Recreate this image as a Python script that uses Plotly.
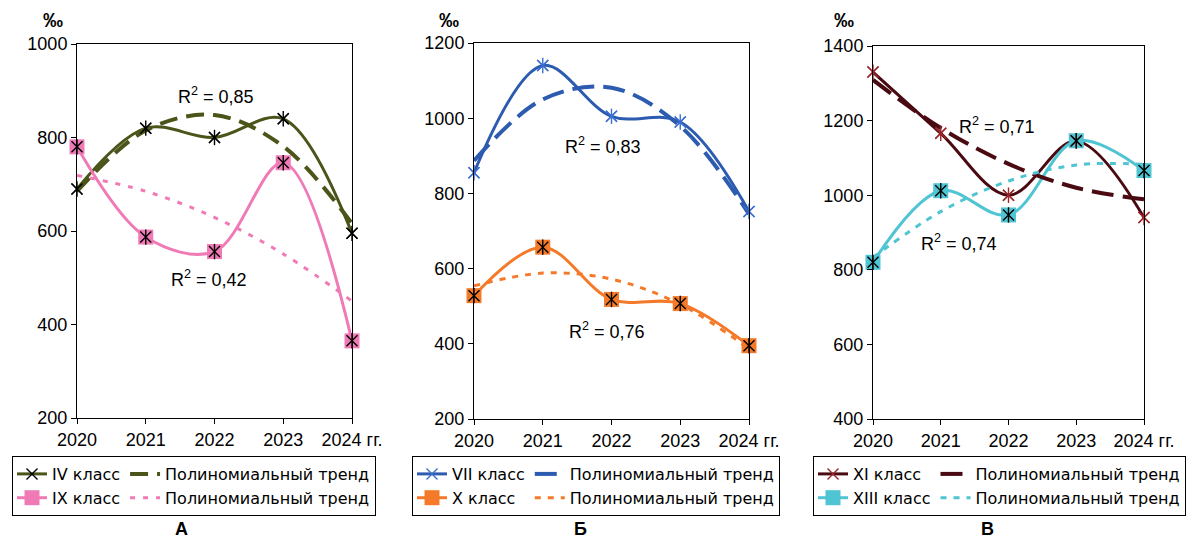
import plotly.graph_objects as go

# page body has an 8px default margin -> figure is 1192x532 and all layout
# pixel positions (measured on the 1200x540 screenshot) are shifted by 8px
OFF = 8
W, H = 1200 - OFF, 540 - OFF
FONT = "Liberation Sans, Arial, sans-serif"
LEG_FONT = "DejaVu Sans, Liberation Sans, Arial, sans-serif"

# ---------------- data ----------------
years = [2020, 2021, 2022, 2023, 2024]
year_labels = ["2020", "2021", "2022", "2023", "2024 гг."]

# Panel A
iv_vals = [690, 820, 800, 840, 595]
ix_vals = [780, 587, 556, 746, 365]
iv_trend = [685, 815, 848, 781, 616]
ix_trend = [719, 685, 629, 551, 450]

# Panel Б
vii_vals = [855, 1140, 1005, 990, 752]
x_vals = [528, 657, 518, 507, 395]
vii_trend = [887, 1050, 1081, 979, 745]
x_trend = [554, 588, 572, 505, 387]

# Panel В
xi_vals = [1330, 1166, 1000, 1145, 940]
xiii_vals = [820, 1012, 947, 1146, 1066]
xi_trend = [1309, 1180, 1084, 1020, 989]
xiii_trend = [833, 956, 1038, 1081, 1083]

ticks_A = [200, 400, 600, 800, 1000]
ticks_B = [200, 400, 600, 800, 1000, 1200]
ticks_C = [400, 600, 800, 1000, 1200, 1400]

r2_labels = ["0,85", "0,42", "0,83", "0,76", "0,71", "0,74"]
panel_labels = ["А", "Б", "В"]
trend_name = "Полиномиальный тренд"

# ---------------- colours ----------------
OLIVE = "#4B5519"
PINK = "#F07AB6"
BLUE = "#2C5BB0"
BLUE_M = "#3A6FD0"
ORANGE = "#F47A2A"
MAROON = "#4A0A12"
MAROON_M = "#9B2528"
CYAN = "#4FC4D2"


def px(x, y):
    return (x - OFF) / W, 1 - (y - OFF) / H


fig = go.Figure()

panels = [
    dict(ax="", leg="legend", s1=("IV класс", iv_vals, iv_trend, OLIVE, None, "black", 4, "18px,9px"),
         s2=("IX класс", ix_vals, ix_trend, PINK, PINK, "black", 3, "5px,8px")),
    dict(ax="2", leg="legend2", s1=("VII класс", vii_vals, vii_trend, BLUE, None, BLUE_M, 4, "22px,9px"),
         s2=("X класс", x_vals, x_trend, ORANGE, ORANGE, "black", 3, "6px,7px")),
    dict(ax="3", leg="legend3", s1=("XI класс", xi_vals, xi_trend, MAROON, None, MAROON_M, 4, "22px,9px"),
         s2=("XIII класс", xiii_vals, xiii_trend, CYAN, CYAN, "black", 3, "6px,7px")),
]

for i, p in enumerate(panels):
    xa, ya = "x" + p["ax"], "y" + p["ax"]
    series = [p["s1"], p["s2"]]
    # data series
    for name, vals, trend, col, sq, mcol, tw, dash in series:
        if sq:
            marker = dict(symbol="square", size=15, color=sq, line=dict(width=0))
        else:
            marker = dict(symbol="x-thin-open", size=11, color=mcol, line=dict(width=1.4, color=mcol))
        fig.add_trace(go.Scatter(
            x=years, y=vals, name=name, mode="lines+markers",
            line=dict(color=col, width=3, shape="spline", smoothing=1),
            marker=marker, xaxis=xa, yaxis=ya, cliponaxis=False,
            legend=p["leg"], legendgroup=f"d{i}"))
    # trends
    for name, vals, trend, col, sq, mcol, tw, dash in series:
        fig.add_trace(go.Scatter(
            x=years, y=trend, name=trend_name, mode="lines",
            line=dict(color=col, width=tw, dash=dash, shape="spline", smoothing=1),
            xaxis=xa, yaxis=ya, cliponaxis=False,
            legend=p["leg"], legendgroup=f"t{i}"))
    # asterisk overlays (Excel star marker: x + vertical bar)
    for name, vals, trend, col, sq, mcol, tw, dash in series:
        for sym in ["x-thin-open", "line-ns-open"]:
            fig.add_trace(go.Scatter(
                x=years, y=vals, mode="markers", showlegend=False, hoverinfo="skip",
                marker=dict(symbol=sym, size=11, color=mcol, line=dict(width=1.4, color=mcol)),
                xaxis=xa, yaxis=ya, cliponaxis=False))

# ---------------- axes ----------------
geo = [  # plot box pixel extents on the screenshot: left, right, top, bottom
    (77, 352, 44, 418, ticks_A),
    (474, 749, 43, 419, ticks_B),
    (873, 1144, 46, 419, ticks_C),
]
axis_common = dict(showline=True, mirror=True, linecolor="black", linewidth=1,
                   ticks="outside", ticklen=5, tickcolor="black", tickwidth=1,
                   showgrid=False, zeroline=False, automargin=False,
                   tickfont=dict(family=FONT, size=18, color="black"))
layout_axes = {}
for i, (l, r, t, b, tv) in enumerate(geo):
    sfx = "" if i == 0 else str(i + 1)
    x0, y0 = px(l, b)
    x1, y1 = px(r, t)
    layout_axes["xaxis" + sfx] = dict(
        domain=[x0, x1], range=[years[0], years[-1]], tickvals=years,
        ticktext=year_labels, anchor="y" + sfx, **axis_common)
    layout_axes["yaxis" + sfx] = dict(
        domain=[y0, y1], range=[tv[0], tv[-1]], tickvals=tv,
        anchor="x" + sfx, **axis_common)

# ---------------- legends ----------------
leg_common = dict(orientation="h", traceorder="grouped", bordercolor="black", borderwidth=1,
                  bgcolor="white", xanchor="left", yanchor="top",
                  font=dict(family=LEG_FONT, size=16, color="black"), itemwidth=30)
legx = [12, 412, 813]
legends = {}
for i, lx in enumerate(legx):
    key = "legend" if i == 0 else f"legend{i + 1}"
    x, y = px(lx, 456)
    legends[key] = dict(x=x, y=y, **leg_common)

# ---------------- annotations ----------------
ann = []


def add_text(x, y, text, size=18, bold=False, xanchor="center"):
    xx, yy = px(x, y)
    ann.append(dict(x=xx, y=yy, xref="paper", yref="paper", text=f"<b>{text}</b>" if bold else text,
                    showarrow=False, xanchor=xanchor, yanchor="middle",
                    font=dict(family=FONT, size=size, color="black")))


# per-mille signs
for x in [53, 449, 844]:
    add_text(x, 20, "‰", size=20, bold=True)
# R² labels
r2_pos = [(216, 95), (209, 278), (603, 145), (607, 330), (997, 126), (959, 242)]
for (x, y), lab in zip(r2_pos, r2_labels):
    add_text(x, y, f"R<sup>2</sup> = {lab}")
# panel letters
for x, lab in zip([181, 580, 987], panel_labels):
    add_text(x, 529, lab, bold=True)

fig.update_layout(
    width=W, height=H, margin=dict(l=0, r=0, t=0, b=0, autoexpand=False),
    paper_bgcolor="white", plot_bgcolor="white",
    font=dict(family=FONT, size=18, color="black"),
    annotations=ann, hovermode=False,
    **layout_axes, **legends,
)

fig.write_html("out.html")
